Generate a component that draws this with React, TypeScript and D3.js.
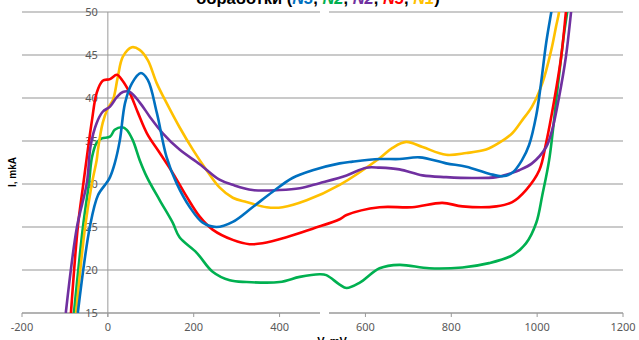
import React from "react";
import * as d3 from "d3";

// I-V curves, V in mV, I in mkA
const blue = [
  [-70, 15], [-42, 25], [-23, 28.7], [-2, 30.2], [5, 30.8], [16, 32.4], [28, 35.1], [40, 39.4],
  [56, 41.7], [77, 42.9], [93, 42.1], [114, 38.3], [137, 33.1], [160, 30.1], [191, 27.3],
  [221, 25.5], [253, 25.0], [291, 25.6], [337, 27.3], [384, 29.1], [430, 30.7], [477, 31.6],
  [540, 32.4], [570, 32.6], [633, 32.9], [679, 32.9], [726, 33.1], [788, 32.4], [835, 32.0],
  [888, 31.2], [919, 30.9], [942, 31.3], [965, 32.8], [981, 34.5], [998, 38.0], [1009, 41.7],
  [1021, 46.4], [1033, 50], [1040, 52],
];
const green = [
  [-79, 15], [-58, 25], [-44, 30.1], [-37, 33.1], [-26, 34.8], [-14, 35.3], [5, 35.5], [16, 36.3],
  [33, 36.6], [44, 36.3], [58, 35.1], [74, 32.8], [91, 30.8], [121, 28.1], [151, 25.5],
  [167, 23.8], [207, 22.0], [244, 19.8], [284, 18.8], [323, 18.6], [400, 18.6], [447, 19.2],
  [493, 19.5], [509, 19.4], [540, 18.3], [556, 17.9], [586, 18.5], [633, 20.2], [679, 20.6],
  [749, 20.2], [826, 20.3], [888, 20.8], [942, 21.7], [974, 23.1], [998, 25.5], [1012, 28.7],
  [1028, 32.8], [1047, 40.9], [1063, 47.6], [1070, 50], [1074, 52],
];
const purple = [
  [-98, 15], [-72, 25], [-49, 30.1], [-40, 34.5], [-26, 37.1], [-12, 38.4], [5, 39.0], [21, 40.1],
  [35, 40.7], [51, 40.7], [74, 39.5], [98, 37.8], [128, 35.9], [167, 34.0], [214, 32.3],
  [260, 30.5], [291, 29.9], [337, 29.3], [400, 29.3], [447, 29.5], [493, 30.1], [556, 31.0],
  [602, 31.9], [633, 31.9], [679, 31.7], [733, 31.0], [788, 30.8], [849, 30.7], [905, 30.8],
  [942, 31.3], [958, 31.6], [988, 32.4], [1021, 34.3], [1035, 36.3], [1051, 40.1], [1067, 44.8],
  [1079, 50], [1083, 52],
];
const red = [
  [-86, 15], [-70, 25], [-58, 29.7], [-37, 37.4], [-26, 40.6], [-12, 42.0], [5, 42.2], [21, 42.7],
  [33, 42.1], [51, 40.6], [70, 38.3], [91, 35.9], [121, 33.6], [151, 31.3], [184, 28.5],
  [214, 26.2], [244, 24.7], [291, 23.5], [330, 23.0], [360, 23.1], [416, 23.8], [477, 24.8],
  [540, 25.9], [556, 26.4], [633, 27.3], [709, 27.3], [779, 27.8], [826, 27.4], [905, 27.4],
  [942, 27.9], [974, 29.3], [1005, 31.6], [1021, 34.8], [1040, 39.8], [1056, 44.8], [1067, 50],
  [1071, 52],
];
const yellow = [
  [-74, 15], [-53, 25], [-37, 30.1], [-26, 32.8], [-23, 34.0], [-12, 37.1], [0, 38.8], [12, 39.8],
  [23, 42.4], [35, 44.8], [56, 45.9], [74, 45.6], [93, 44.4], [114, 41.7], [137, 39.4],
  [167, 36.6], [198, 34.0], [230, 31.6], [260, 29.6], [291, 28.4], [323, 27.9], [370, 27.3],
  [407, 27.3], [463, 28.1], [540, 29.9], [633, 33.0], [663, 34.2], [695, 34.9], [733, 34.3],
  [788, 33.4], [835, 33.6], [881, 34.0], [912, 34.8], [942, 35.9], [965, 37.4], [988, 39.0],
  [1012, 41.7], [1033, 45.6], [1044, 48.3], [1051, 50], [1054, 52],
];

const seriesColors = ["#0070C0", "#00B050", "#7030A0", "#FF0000", "#FFC000"];
const seriesData = [blue, green, purple, red, yellow];
// drawn order: bottom first
const drawOrder = [1, 4, 3, 2, 0];

const titleText = "обработки";
const titleTags = ["N3", "N2", "N2", "N5", "N1"];

const xTicks = [-200, 0, 200, 400, 600, 800, 1000, 1200];
const yTicks = [15, 20, 25, 30, 35, 40, 45, 50];

const W = 639;
const H = 340;

export default function App() {
  const x = d3.scaleLinear().domain([-200, 1200]).range([22, 623]);
  const y = d3.scaleLinear().domain([15, 50]).range([313, 12]);
  const line = d3
    .line<number[]>()
    .x((d) => x(d[0]))
    .y((d) => y(d[1]))
    .curve(d3.curveCatmullRom.alpha(0.5));

  const gapA = 320;
  const gapB = 329;
  const labelFont = "'Noto Sans', 'DejaVu Sans', sans-serif";

  return (
    <svg
      width={W}
      height={H}
      style={{ position: "absolute", left: 0, top: 0, background: "#fff" }}
    >
      <defs>
        <clipPath id="plot">
          <rect x={x(-200)} y={y(50)} width={x(1200) - x(-200)} height={y(15) - y(50)} />
        </clipPath>
      </defs>

      {/* gridlines */}
      {yTicks.map((t) =>
        t === 50 || t === 15 ? (
          <g key={t}>
            <line x1={x(-200)} x2={gapA} y1={y(t)} y2={y(t)} stroke={t === 15 ? "#9a9a9a" : "#b8b8b8"} strokeWidth={1.3} />
            <line x1={gapB} x2={x(1200)} y1={y(t)} y2={y(t)} stroke={t === 15 ? "#9a9a9a" : "#b8b8b8"} strokeWidth={1.3} />
          </g>
        ) : (
          <line key={t} x1={x(-200)} x2={x(1200)} y1={y(t)} y2={y(t)} stroke="#b8b8b8" strokeWidth={1.3} />
        )
      )}

      {/* vertical axis at V = 0 */}
      <line x1={x(0)} x2={x(0)} y1={y(50)} y2={y(15) + 4} stroke="#9a9a9a" strokeWidth={1} />

      {/* x ticks */}
      {xTicks.map((t) => (
        <line key={t} x1={x(t)} x2={x(t)} y1={y(15)} y2={y(15) + 4} stroke="#9a9a9a" strokeWidth={1} />
      ))}

      {/* y tick labels */}
      {yTicks.map((t) => (
        <text
          key={t}
          x={x(0) - 10}
          y={y(t) + 4}
          textAnchor="end"
          fontFamily={labelFont}
          fontSize={11}
          fill="#595959"
        >
          {t}
        </text>
      ))}

      {/* x tick labels */}
      {xTicks.map((t) => (
        <text
          key={t}
          x={x(t)}
          y={331}
          textAnchor="middle"
          fontFamily={labelFont}
          fontSize={11}
          fill="#595959"
        >
          {t}
        </text>
      ))}

      {/* curves */}
      <g clipPath="url(#plot)">
        {drawOrder.map((i) => (
          <path
            key={i}
            d={line(seriesData[i]) || ""}
            fill="none"
            stroke={seriesColors[i]}
            strokeWidth={2.6}
            strokeLinejoin="round"
          />
        ))}
      </g>

      {/* title, clipped at the top of the image */}
      <text
        x={318}
        y={4}
        textAnchor="middle"
        fontFamily="'Liberation Sans', Arial, sans-serif"
        fontWeight="bold"
        fontSize={16.5}
        fill="#000"
      >
        {titleText + " ("}
        {titleTags.map((tag, i) => (
          <tspan key={i}>
            <tspan fill={seriesColors[i]} fontStyle="italic">{tag}</tspan>
            {i < titleTags.length - 1 ? ", " : ")"}
          </tspan>
        ))}
      </text>

      {/* axis titles */}
      <text
        transform="translate(16,172) rotate(-90)"
        textAnchor="middle"
        fontFamily="'Liberation Sans', Arial, sans-serif"
        fontWeight="bold"
        fontSize={10}
        fill="#000"
      >
        I, mkA
      </text>
      <text
        x={332}
        y={345}
        textAnchor="middle"
        fontFamily="'Liberation Sans', Arial, sans-serif"
        fontWeight="bold"
        fontSize={11}
        fill="#000"
      >
        V, mV
      </text>
    </svg>
  );
}
